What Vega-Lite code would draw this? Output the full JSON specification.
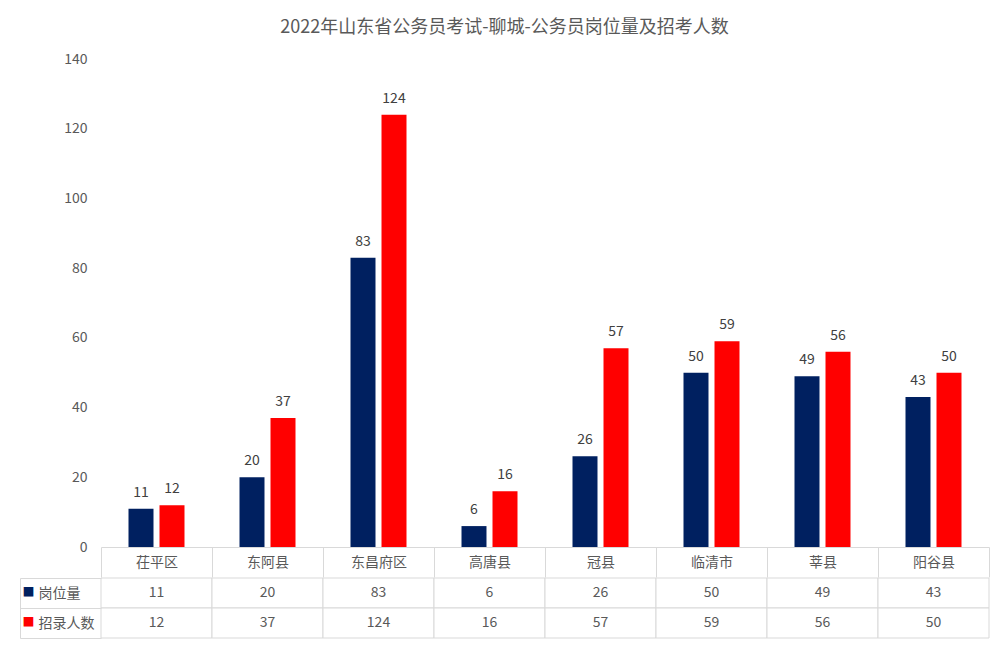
{
  "$schema": "https://vega.github.io/schema/vega-lite/v6.json",
  "background": "white",
  "padding": {"left": 19, "top": 19, "right": 12, "bottom": 5},
  "title": {"text": "2022年山东省公务员考试-聊城-公务员岗位量及招考人数", "fontSize": 18, "color": "#595959", "fontWeight": "normal", "anchor": "middle", "offset": 15},
  "config": {"font": "Noto Sans CJK SC", "view": {"stroke": null}},
  "datasets": {
    "d": [
      {"region": "茌平区", "series": "岗位量", "value": 11},
      {"region": "茌平区", "series": "招录人数", "value": 12},
      {"region": "东阿县", "series": "岗位量", "value": 20},
      {"region": "东阿县", "series": "招录人数", "value": 37},
      {"region": "东昌府区", "series": "岗位量", "value": 83},
      {"region": "东昌府区", "series": "招录人数", "value": 124},
      {"region": "高唐县", "series": "岗位量", "value": 6},
      {"region": "高唐县", "series": "招录人数", "value": 16},
      {"region": "冠县", "series": "岗位量", "value": 26},
      {"region": "冠县", "series": "招录人数", "value": 57},
      {"region": "临清市", "series": "岗位量", "value": 50},
      {"region": "临清市", "series": "招录人数", "value": 59},
      {"region": "莘县", "series": "岗位量", "value": 49},
      {"region": "莘县", "series": "招录人数", "value": 56},
      {"region": "阳谷县", "series": "岗位量", "value": 43},
      {"region": "阳谷县", "series": "招录人数", "value": 50}
    ]
  },
  "spacing": -11,
  "vconcat": [
    {
      "width": 888,
      "height": 488,
      "data": {"name": "d"},
      "encoding": {
        "x": {"field": "region", "type": "nominal", "sort": ["茌平区", "东阿县", "东昌府区", "高唐县", "冠县", "临清市", "莘县", "阳谷县"],
              "scale": {"paddingInner": 0, "paddingOuter": 0},
              "axis": {"title": null, "orient": "bottom", "labelAngle": 0, "tickSize": 30, "tickBand": "extent", "tickColor": "#d9d9d9", "domainColor": "#d9d9d9", "labelPadding": -15, "labelBaseline": "middle", "labelFontSize": 14, "labelColor": "#595959"}},
        "xOffset": {"field": "series", "type": "nominal", "sort": ["岗位量", "招录人数"], "scale": {"paddingInner": 0.194, "paddingOuter": 0.887}},
        "y": {"field": "value", "type": "quantitative", "scale": {"domain": [0, 140]},
              "axis": {"title": null, "values": [0, 20, 40, 60, 80, 100, 120, 140], "domain": false, "ticks": false, "grid": false, "labelPadding": 14, "labelFontSize": 14, "labelColor": "#595959"}}
      },
      "layer": [
        {
          "mark": {"type": "bar"},
          "encoding": {
            "color": {"field": "series", "type": "nominal", "scale": {"domain": ["岗位量", "招录人数"], "range": ["#002060", "#ff0000"]}, "legend": null}
          }
        },
        {
          "mark": {"type": "text", "baseline": "bottom", "dy": -9, "fontSize": 14, "color": "#404040"},
          "encoding": {"text": {"field": "value", "type": "quantitative"}}
        }
      ]
    },
    {
      "width": 888,
      "height": 60,
      "data": {"name": "d"},
      "encoding": {
        "x": {"field": "region", "type": "nominal", "sort": ["茌平区", "东阿县", "东昌府区", "高唐县", "冠县", "临清市", "莘县", "阳谷县"],
              "scale": {"paddingInner": 0, "paddingOuter": 0}, "axis": null}
      },
      "layer": [
        {
          "mark": {"type": "rect", "fill": "white", "stroke": "#d9d9d9", "strokeWidth": 1},
          "encoding": {
            "y": {"field": "series", "type": "nominal", "sort": ["岗位量", "招录人数"], "scale": {"paddingInner": 0, "paddingOuter": 0},
                  "axis": {"title": null, "orient": "left", "domain": false, "ticks": true, "tickBand": "extent", "tickSize": 81, "tickColor": "#d9d9d9", "labelAlign": "left", "labelPadding": -18, "labelBaseline": "middle", "labelFontSize": 14, "labelColor": "#595959"}}
          }
        },
        {
          "mark": {"type": "text", "fontSize": 14, "color": "#595959"},
          "encoding": {
            "y": {"field": "series", "type": "nominal", "sort": ["岗位量", "招录人数"],
                  "axis": {"title": null, "orient": "left", "offset": 81, "domain": true, "domainColor": "#d9d9d9", "ticks": false, "labelAlign": "left", "labelPadding": -2, "labelBaseline": "middle", "labelExpr": "'■'", "labelFontSize": 12,
                           "labelColor": {"condition": {"test": "datum.value == '岗位量'", "value": "#002060"}, "value": "#ff0000"}}},
            "text": {"field": "value", "type": "quantitative"}
          }
        }
      ],
      "resolve": {"axis": {"y": "independent"}}
    }
  ]
}
